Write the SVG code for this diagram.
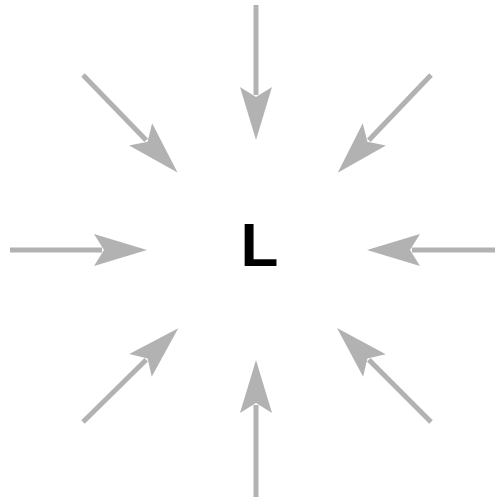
<svg xmlns="http://www.w3.org/2000/svg" width="497" height="501" viewBox="0 0 497 501">
  <style>
    .conn { stroke: #b2b2b2; stroke-width: 5; fill: none; marker-end: url(#head); }
    .lbl { font-family: "Liberation Sans", Arial, sans-serif; font-weight: bold; font-size: 62px; fill: #000; }
  </style>
  <defs>
    <marker id="head" markerUnits="userSpaceOnUse" viewBox="-55 -18 57 36" markerWidth="57" markerHeight="36" refX="-45" refY="0" orient="auto">
      <path d="M0,0 L-53,-16 L-43,0 L-53,16 Z" fill="#b2b2b2"/>
    </marker>
  </defs>
  <rect width="497" height="501" fill="#fff"/>
  <g id="connectors">
    <line class="conn" x1="256" y1="5" x2="256" y2="95"/>
    <line class="conn" x1="256" y1="497" x2="256" y2="405"/>
    <line class="conn" x1="10" y1="250" x2="102" y2="250"/>
    <line class="conn" x1="495" y1="250" x2="412" y2="250"/>
    <line class="conn" x1="83" y1="75" x2="146.2" y2="140.2"/>
    <line class="conn" x1="431" y1="75" x2="368.8" y2="140.2"/>
    <line class="conn" x1="83" y1="422" x2="146.2" y2="359.8"/>
    <line class="conn" x1="431" y1="422" x2="368.8" y2="359.8"/>
  </g>
  <g id="node-L">
    <text class="lbl" x="240.5" y="266">L</text>
  </g>
</svg>
